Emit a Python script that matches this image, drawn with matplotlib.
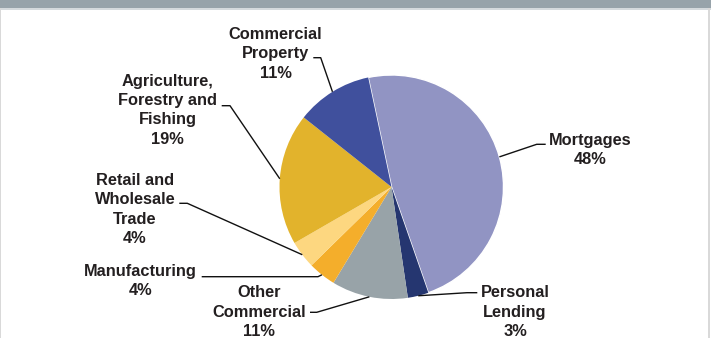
import numpy as np
from matplotlib import pyplot as plt
from matplotlib.patches import Rectangle

# data (percent of lending book)
categories = ["Mortgages", "Personal\nLending", "Other\nCommercial", "Manufacturing",
              "Retail and\nWholesale\nTrade", "Agriculture,\nForestry and\nFishing",
              "Commercial\nProperty"]
shares = [48, 3, 11, 4, 4, 19, 11]
colors = ["#9194c3", "#253670", "#98a3a8", "#f4ae2b", "#fdd780", "#e2b32c", "#40509d"]

# label layout (pixel coordinates, y measured from top)
label_pos = [(589.7, 149.7), (515, 312.2), (259, 312.2), (140.7, 281.3),
             (135, 209.5), (167.5, 110.3), (275.5, 53.7)]
# leader lines: start next to text, short elbow, then to wedge edge
leader_start = [(545.7, 144.3), (477.3, 292.7), (310, 312.3), (201.7, 276.7),
                (179.3, 203.3), (221.7, 105.7), (313.3, 57.7)]
leader_elbow = [(536.7, 144.3), (467, 292.7), (316.7, 312.3), (318, 276.7),
                (187.3, 203.3), (230, 105.7), (320.7, 57.7)]

W, H = 711, 338
fig = plt.figure(figsize=(W / 100, H / 100), dpi=100)
ax = fig.add_axes([0, 0, 1, 1])

cx, cy, r = 391.5, H - 187, 112
wedges, _ = ax.pie(shares, colors=colors, startangle=102, counterclock=False,
                   center=(cx, cy), radius=r, frame=True,
                   wedgeprops=dict(linewidth=0))
ax.set_xlim(0, W)
ax.set_ylim(0, H)
ax.set_aspect("equal")
ax.axis("off")
# white separator only on the big mortgage slice
wedges[0].set_edgecolor("white")
wedges[0].set_linewidth(1.0)

txt_color = "#231f20"
for i, w in enumerate(wedges):
    mid = np.deg2rad((w.theta1 + w.theta2) / 2)
    ax_x = cx + r * np.cos(mid)
    ax_y = cy + r * np.sin(mid)
    sx, sy = leader_start[i]
    ex, ey = leader_elbow[i]
    ax.plot([sx, ex, ax_x], [H - sy, H - ey, ax_y], color="#111111", lw=1.0,
            solid_capstyle="butt", zorder=3)
    lx, ly = label_pos[i]
    ax.text(lx, H - ly, f"{categories[i]}\n{shares[i]}%", ha="center", va="center",
            fontsize=11.8, fontweight="bold", family="Liberation Sans",
            color=txt_color, linespacing=1.36)

# grey header strip and light frame
fig.patches.append(Rectangle((0, 1 - 8 / H), 1, 8 / H, transform=fig.transFigure,
                             facecolor="#97a3aa", edgecolor="none"))
fig.patches.append(Rectangle((0, 1 - 10 / H), 1, 2 / H, transform=fig.transFigure,
                             facecolor="#d5dadd", edgecolor="none"))
fig.patches.append(Rectangle((0, 0), 1.5 / W, 1 - 8 / H, transform=fig.transFigure,
                             facecolor="#d9d9d9", edgecolor="none"))
fig.patches.append(Rectangle((1 - 3 / W, 0), 1.5 / W, 1 - 8 / H, transform=fig.transFigure,
                             facecolor="#d9d9d9", edgecolor="none"))

fig.savefig("out.png", dpi=100, facecolor="white")
